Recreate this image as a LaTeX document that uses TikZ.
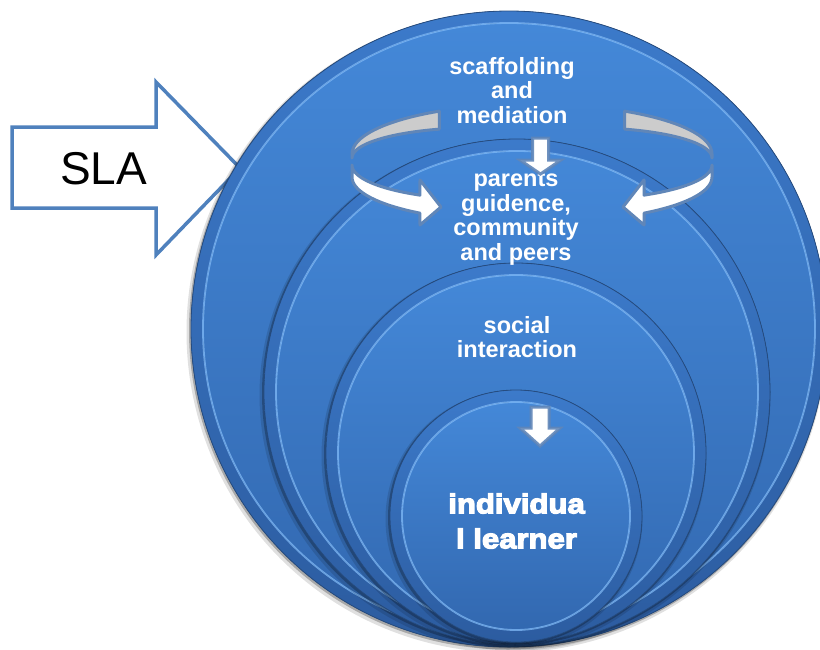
\documentclass[tikz,border=0pt]{standalone}
\usepackage{fontspec}
\setmainfont{Liberation Sans}
\newfontfamily\heavyfont{Liberation Sans Bold}[FakeBold=4.5,FakeStretch=1.13]

\definecolor{slaline}{RGB}{79,129,189}
\definecolor{discTop}{RGB}{68,136,216}
\definecolor{discBot}{RGB}{50,104,176}
\definecolor{rimTop}{RGB}{60,122,202}
\definecolor{rimBot}{RGB}{44,92,160}
\definecolor{discEdge}{RGB}{38,76,128}
\definecolor{glint}{RGB}{128,186,248}
\definecolor{ribbonline}{RGB}{96,134,184}
\definecolor{ribbonback}{RGB}{204,204,204}

% one bevelled disc: centre x, centre y, radius
\newcommand{\bevelcircle}[3]{%
 \fill[black,opacity=0.12] (#1-2,#2+3) circle[radius=#3+2.5];
 \fill[black,opacity=0.25] (#1-1,#2+1.5) circle[radius=#3+1];
 \fill[rimfill] (#1,#2) circle[radius=#3];
 \fill[discfill] (#1,#2) circle[radius=#3-12];
 \draw[glintline] (#1,#2) circle[radius=#3-12];
 \draw[edgeline] (#1,#2) circle[radius=#3];
}

% twisted ribbon arrow on the left; the right one is its mirror image
\newcommand{\ribbonarrow}{%
 \filldraw[ribbon,fill=ribbonback]
   plot[domain=121:180,samples=30] ({532+180*cos(\x)},{154-50*sin(\x)})
   -- plot[domain=180:121,samples=30] ({532+180*cos(\x)},{154-50*sin(\x)+4+14*(180-\x)/59})
   -- cycle;
 \filldraw[ribbon,fill=white]
   plot[domain=180:231.5,samples=30] ({532+180*cos(\x)},{165-50*sin(\x)-9*(\x-180)/51.5})
   -- (420,180) -- (441,207) -- (420,225)
   -- plot[domain=231.5:180,samples=30] ({532+180*cos(\x)},{174-50*sin(\x)+3*(231.5-\x)/51.5})
   -- cycle;
}

\tikzset{
  rimfill/.style={top color=rimTop,bottom color=rimBot},
  discfill/.style={top color=discTop,bottom color=discBot},
  edgeline/.style={draw=discEdge,line width=0.8pt},
  glintline/.style={draw=glint,line width=1.8pt,opacity=0.75},
  ringtext/.style={text=white,font=\bfseries\fontsize{23.5}{24.5}\selectfont,
    align=center,inner sep=0pt},
  heavytext/.style={text=white,font=\heavyfont\fontsize{27.5}{35}\selectfont,
    align=center,inner sep=0pt},
  ribbon/.style={draw=ribbonline,line width=3pt,line join=round},
  downarrow/.style={fill=white,draw=ribbonline,draw opacity=0.9,line width=3pt,line join=miter},
}

\begin{document}
\begin{tikzpicture}[x=1pt,y=-1pt]
\useasboundingbox (0,0) rectangle (820,649);

% SLA block arrow
\draw[slaline,line width=3.5pt,fill=white,line join=miter]
  (12,127) -- (156,127) -- (156,82) -- (240,168) -- (156,255) -- (156,208) -- (12,208) -- cycle;
\node[font=\fontsize{46}{50}\selectfont,inner sep=0pt] (sla) at (103.5,168.5) {SLA};

% nested discs, all resting on the same bottom point
\bevelcircle{509}{329}{318}
\bevelcircle{517}{392}{253}
\bevelcircle{516}{453}{190}
\bevelcircle{516}{516}{126}

% labels
\node[ringtext] (scaf) at (512,90.5) {scaffolding\\and\\mediation};
\node[ringtext] (peers) at (516,218.5) {parents\\guidence,\\community\\and peers};
\node[ringtext] (social) at (517,337) {social\\interaction};
\node[heavytext] (learner) at (516.5,521) {individua\\l learner};

% ribbon arrows
\ribbonarrow
\begin{scope}[shift={(1064,0)},xscale=-1]
  \ribbonarrow
\end{scope}

% downward arrows
\filldraw[downarrow] (532.5,138) -- (548.5,138) -- (548.5,160) -- (561,160)
  -- (540.5,174) -- (520,160) -- (532.5,160) -- cycle;
\filldraw[downarrow] (531,407) -- (549,407) -- (549,428) -- (560,428)
  -- (540,446) -- (520,428) -- (531,428) -- cycle;
\end{tikzpicture}
\end{document}
